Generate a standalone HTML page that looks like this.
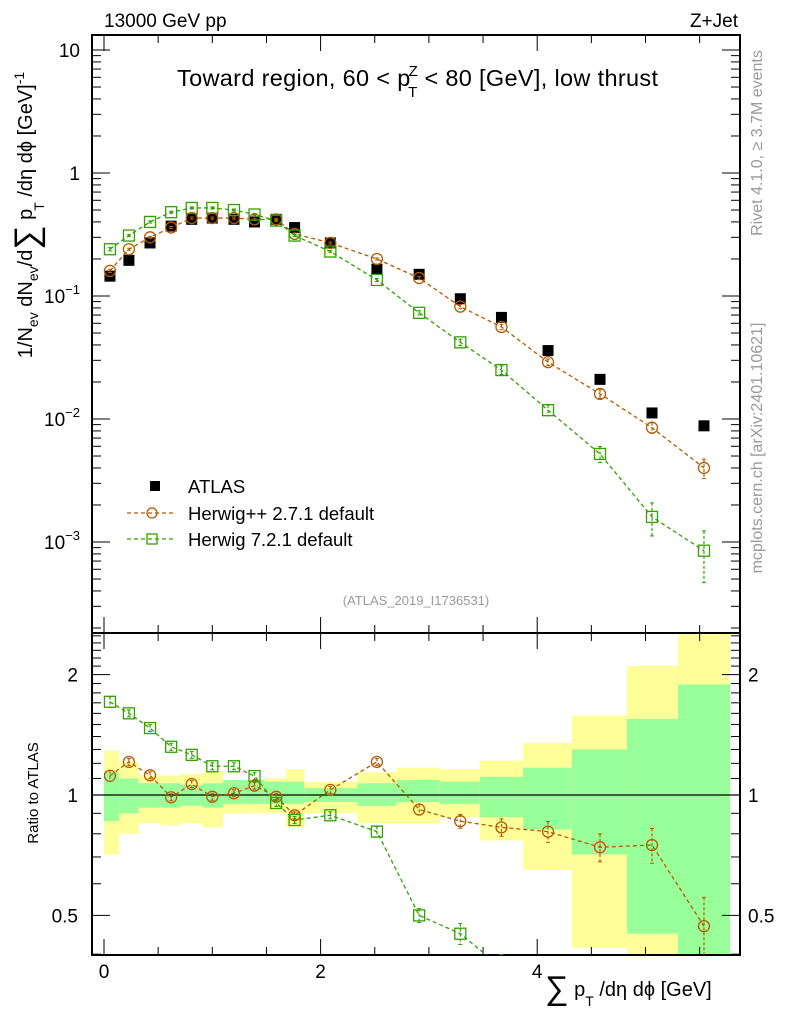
<!DOCTYPE html>
<html><head><meta charset="utf-8"><style>
html,body{margin:0;padding:0;background:#fff;width:786px;height:1024px;overflow:hidden}
svg{display:block;font-family:"Liberation Sans","DejaVu Sans",sans-serif;overflow:hidden}
</style></head><body>
<svg id="c" width="786" height="1024" viewBox="0 0 786 1024">
<g id="bands"></g>
<g id="grid"></g>
<g id="series"></g>
<text x="104" y="27" font-size="19">13000 GeV pp</text>
<text x="738" y="27" font-size="19" text-anchor="end">Z+Jet</text>
<text x="177" y="86" font-size="23.5" textLength="481">Toward region, 60 &lt; p<tspan font-size="15" dx="-2" dy="-10">Z</tspan><tspan font-size="15" dx="-10" dy="21">T</tspan><tspan dy="-11"> &lt; 80 [GeV], low thrust</tspan></text>
<text x="416" y="605" font-size="13" fill="#999" text-anchor="middle">(ATLAS_2019_I1736531)</text>
<text transform="translate(762,143) rotate(-90)" font-size="16" fill="#999" text-anchor="middle">Rivet 4.1.0, ≥ 3.7M events</text>
<text transform="translate(762,448) rotate(-90)" font-size="16" fill="#999" text-anchor="middle">mcplots.cern.ch [arXiv:2401.10621]</text>
<text transform="translate(32,215) rotate(-90)" font-size="20" text-anchor="middle">1/N<tspan font-size="14" dy="6">ev</tspan><tspan dy="-6"> dN</tspan><tspan font-size="14" dy="6">ev</tspan><tspan dy="-6">/d</tspan><tspan font-size="34" dy="6">∑</tspan><tspan dy="-6"> p</tspan><tspan font-size="14" dx="-2" dy="12">T</tspan><tspan dy="-12"> /dη dϕ  [GeV]</tspan><tspan font-size="14" dy="-8">-1</tspan></text>
<text transform="translate(38,793) rotate(-90)" font-size="15" text-anchor="middle">Ratio to ATLAS</text>
<text x="545" y="996" font-size="20"><tspan font-size="33" dy="3">∑</tspan><tspan dy="-3"> p</tspan><tspan font-size="14" dy="10">T</tspan><tspan dy="-10"> /dη dϕ [GeV]</tspan></text>
<g>
<rect x="150" y="481" width="10" height="10" fill="#000"/>
<text x="188" y="493" font-size="18.5">ATLAS</text>
<line x1="127" y1="513" x2="175" y2="513" stroke="#b35a00" stroke-dasharray="4,3" stroke-width="1.3"/>
<circle cx="152" cy="513" r="5" fill="none" stroke="#b35a00" stroke-width="1.3"/>
<text x="188" y="520" font-size="18.5">Herwig++ 2.7.1 default</text>
<line x1="127" y1="539" x2="175" y2="539" stroke="#33a000" stroke-dasharray="4,3" stroke-width="1.3"/>
<rect x="147" y="534" width="10" height="10" fill="none" stroke="#33a000" stroke-width="1.3"/>
<text x="188" y="546" font-size="18.5">Herwig 7.2.1 default</text>
</g>
</svg>
<script>
const edges=[0,0.14,0.32,0.52,0.71,0.91,1.10,1.29,1.48,1.68,1.85,2.34,2.70,3.10,3.47,3.87,4.32,4.83,5.30,5.78];
const xc=[0.055,0.23,0.425,0.62,0.81,1.0,1.20,1.39,1.59,1.76,2.09,2.52,2.91,3.29,3.67,4.10,4.58,5.06,5.54];
const atlas=[0.145,0.195,0.27,0.37,0.42,0.43,0.42,0.40,0.42,0.36,0.27,0.165,0.15,0.095,0.067,0.036,0.021,0.0112,0.0088];
const hpp=[0.16,0.24,0.30,0.36,0.43,0.43,0.43,0.42,0.42,0.32,0.27,0.20,0.14,0.082,0.056,0.029,0.016,0.0085,0.004];
const hppErr=[0.03,0.02,0.02,0.02,0.02,0.02,0.02,0.02,0.02,0.02,0.02,0.02,0.03,0.04,0.05,0.06,0.08,0.1,0.18];
const h7=[0.24,0.31,0.40,0.48,0.52,0.52,0.50,0.46,0.41,0.31,0.23,0.135,0.073,0.042,0.025,0.0118,0.0052,0.0016,0.00085];
const h7Err=[0.03,0.02,0.02,0.02,0.02,0.02,0.02,0.02,0.02,0.02,0.02,0.03,0.04,0.06,0.08,0.1,0.15,0.3,0.45];
const hppRatio=[1.117,1.21,1.12,0.987,1.065,0.99,1.01,1.055,0.99,0.89,1.03,1.21,0.92,0.86,0.83,0.81,0.74,0.75,0.47];
const h7Ratio=[1.71,1.60,1.47,1.32,1.26,1.18,1.18,1.115,0.955,0.866,0.89,0.81,0.50,0.45,0.37,0.33,0.25,0.14,0.10];
const greenUp=[1.14,1.10,1.07,1.07,1.06,1.07,1.09,1.09,1.08,1.08,1.04,1.07,1.09,1.08,1.11,1.17,1.30,1.55,1.89];
const greenDn=[0.86,0.90,0.93,0.93,0.94,0.93,0.95,0.95,0.95,0.95,0.96,0.94,0.96,0.95,0.88,0.82,0.71,0.45,0.30];
const yellowUp=[1.29,1.21,1.12,1.12,1.13,1.15,1.09,1.09,1.10,1.16,1.08,1.14,1.17,1.16,1.22,1.35,1.58,2.10,3.0];
const yellowDn=[0.71,0.80,0.85,0.84,0.85,0.83,0.90,0.90,0.90,0.83,0.90,0.85,0.85,0.88,0.77,0.65,0.415,0.30,0.30];
const xTicks=[0,2,4];
const logTicks=[10,1,0.1,0.01,0.001];
const logLabels=["10","1","10","10","10"];
const logExps=["","","−1","−2","−3"];
const ratioTicks=[2,1,0.5];

const L=92,R=740,T=35,MB=633,B=955;
const X=v=>104+v*108.3;
const Y=v=>173-Math.log10(v)*123;
const RY=v=>795-Math.log10(v)*400;
const NS="http://www.w3.org/2000/svg";
function mk(p,t,a){const e=document.createElementNS(NS,t);for(const k in a)e.setAttribute(k,a[k]);p.appendChild(e);return e;}
const bands=document.getElementById('bands'),grid=document.getElementById('grid'),ser=document.getElementById('series');
const clipR=v=>Math.max(MB,Math.min(B,v));
for(let i=0;i<xc.length;i++){
 const x0=X(edges[i]),x1=X(edges[i+1]);
 const y=mk(bands,'rect',{x:x0,y:clipR(RY(yellowUp[i])),width:x1-x0,height:clipR(RY(yellowDn[i]))-clipR(RY(yellowUp[i])),fill:'#ffff99'});
 
 
 const g=mk(bands,'rect',{x:x0,y:clipR(RY(greenUp[i])),width:x1-x0,height:clipR(RY(greenDn[i]))-clipR(RY(greenUp[i])),fill:'#99ff99'});
 
 
}
mk(grid,'rect',{x:L,y:T,width:R-L,height:B-T,fill:'none',stroke:'#000','stroke-width':2});
mk(grid,'line',{x1:L,y1:MB,x2:R,y2:MB,stroke:'#000','stroke-width':2});
mk(grid,'line',{x1:L,y1:RY(1),x2:R,y2:RY(1),stroke:'#000','stroke-width':1.3});
for(let v=0;v<=5.9;v+=0.5){const x=X(v);const big=Math.abs(v-Math.round(v/2)*2)<1e-6;const len=big?16:8;
 [T,MB].forEach(y0=>mk(grid,'line',{x1:x,y1:y0,x2:x,y2:y0+len,stroke:'#000','stroke-width':1}));
 [MB,B].forEach(y0=>mk(grid,'line',{x1:x,y1:y0,x2:x,y2:y0-len,stroke:'#000','stroke-width':1}));}
xTicks.forEach(v=>{const t=mk(grid,'text',{x:X(v),y:978,'font-size':19,'text-anchor':'middle'});t.textContent=v;
 
 });
for(let d=-4;d<=1;d++){for(let m=1;m<=9;m++){const v=m*Math.pow(10,d);const y=Y(v);if(y<T||y>MB)continue;const len=m==1?18:9;
 mk(grid,'line',{x1:L,y1:y,x2:L+len,y2:y,stroke:'#000'});mk(grid,'line',{x1:R,y1:y,x2:R-len,y2:y,stroke:'#000'});}}
logTicks.forEach((v,i)=>{const t=mk(grid,'text',{x:80,y:Y(v)+7,'font-size':19,'text-anchor':'end'});t.textContent=logLabels[i];
 if(logExps[i]){const s=mk(t,'tspan',{'font-size':13,dy:-9});s.textContent=logExps[i];}
 
 });
for(let k=1;k<=25;k++){const v=k/10;const y=RY(v);if(y<MB||y>B)continue;const big=[5,10,20].includes(k);const len=big?18:9;
 mk(grid,'line',{x1:L,y1:y,x2:L+len,y2:y,stroke:'#000'});mk(grid,'line',{x1:R,y1:y,x2:R-len,y2:y,stroke:'#000'});}
ratioTicks.forEach(v=>{[[78,'end'],[748,'start']].forEach(([x,a])=>{const t=mk(grid,'text',{x:x,y:RY(v)+7,'font-size':19,'text-anchor':a});t.textContent=v;
 
 });});

const defs=mk(document.getElementById('c'),'defs',{});
const c1=mk(defs,'clipPath',{id:'cm'});mk(c1,'rect',{x:L,y:T,width:R-L,height:MB-T});
const c2=mk(defs,'clipPath',{id:'cr'});mk(c2,'rect',{x:L,y:MB,width:R-L,height:B-MB});
function line(vals,fy,col,clip){const pts=xc.map((x,i)=>[X(x),fy(vals[i])]);
 mk(ser,'path',{d:'M'+pts.map(p=>p[0]+','+p[1]).join(' L'),fill:'none',stroke:col,'stroke-width':1.3,'stroke-dasharray':'4,3','clip-path':'url(#'+clip+')'});}
function markers(vals,fy,errRel,col,shape,clip,name){const g=mk(ser,'g',{'clip-path':'url(#'+clip+')'});
 
 
 xc.forEach((x,i)=>{const cx=X(x),cy=fy(vals[i]);const e=errRel[i];
  const y1=fy(vals[i]*(1+e)),y2=fy(vals[i]*(1-e));
  mk(g,'line',{x1:cx,y1:y1,x2:cx,y2:y2,stroke:col,'stroke-width':1.2,'stroke-dasharray':'3,2'});
  mk(g,'line',{x1:cx-2,y1:y1,x2:cx+2,y2:y1,stroke:col});mk(g,'line',{x1:cx-2,y1:y2,x2:cx+2,y2:y2,stroke:col});
  if(shape=='c')mk(g,'circle',{cx:cx,cy:cy,r:5.5,fill:'none',stroke:col,'stroke-width':1.3});
  else mk(g,'rect',{x:cx-5.5,y:cy-5.5,width:11,height:11,fill:'none',stroke:col,'stroke-width':1.3});
 });}
line(hpp,Y,'#b35a00','cm');line(h7,Y,'#33a000','cm');
line(hppRatio,RY,'#b35a00','cr');line(h7Ratio,RY,'#33a000','cr');
const ag=mk(ser,'g',{});


xc.forEach((x,i)=>{mk(ag,'rect',{x:X(x)-5.5,y:Y(atlas[i])-5.5,width:11,height:11,fill:'#000'});});
markers(hpp,Y,hppErr,'#b35a00','c','cm','herwigpp-points');
markers(h7,Y,h7Err,'#33a000','s','cm','herwig7-points');
markers(hppRatio,RY,hppErr,'#b35a00','c','cr','herwigpp-ratio-points');
markers(h7Ratio,RY,h7Err,'#33a000','s','cr','herwig7-ratio-points');
</script>
</body></html>
